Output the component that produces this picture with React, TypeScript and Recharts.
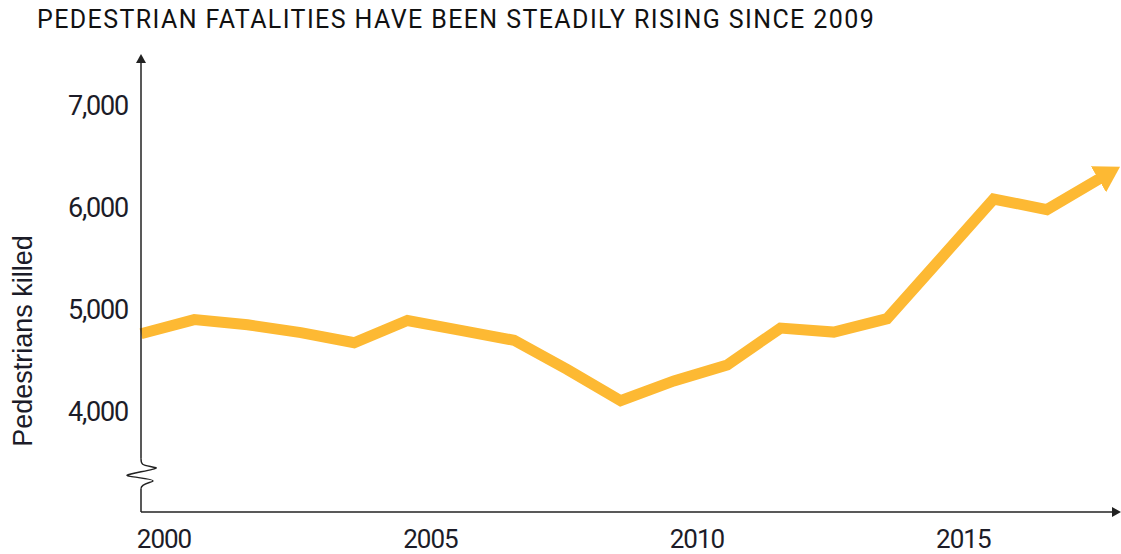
import React from 'react';
import { LineChart, Line, XAxis, YAxis, ReferenceDot, Label } from 'recharts';

const years = [2000, 2001, 2002, 2003, 2004, 2005, 2006, 2007, 2008, 2009, 2010, 2011, 2012, 2013, 2014, 2015, 2016, 2017, 2018];
const fatalities = [4763, 4901, 4851, 4774, 4675, 4892, 4795, 4699, 4414, 4109, 4302, 4457, 4818, 4779, 4910, 5494, 6080, 5977, 6283];
const xTicks = [2000, 2005, 2010, 2015];
const yTicks = [4000, 5000, 6000, 7000];

const data = years.map((y, i) => ({ year: y, v: fatalities[i] }));

const LINE_COLOR = '#FDB933';
const AXIS_COLOR = '#222';
const TEXT_COLOR = '#1c1c28';

const Squiggle = (props: any) => {
  const { cx, cy } = props;
  return (
    <g transform={`translate(${cx},${cy})`}>
      <rect x={-3} y={-15} width={6} height={30} fill="#fff" />
      <path
        d="M0,-15 C0,-8 2,-9 15,-6 C18,-5 -12,0 -14,1.5 C-15,3 12,5 12,7 C12,9 0,9 0,15"
        fill="none"
        stroke={AXIS_COLOR}
        strokeWidth={1.4}
      />
    </g>
  );
};

const YLabel = (props: any) => {
  const vb = props.viewBox || { x: 0, y: 62, width: 141, height: 450 };
  const x = vb.x + 23;
  const y = vb.y + vb.height / 2 + 54;
  return (
    <text
      x={x}
      y={y}
      transform={`rotate(-90, ${x}, ${y})`}
      textAnchor="middle"
      dominantBaseline="central"
      fill={TEXT_COLOR}
      style={{ fontFamily: 'Liberation Sans, Arial, sans-serif', fontSize: 27, whiteSpace: 'pre' }}
    >
      Pedestrians killed
    </text>
  );
};

export default function App() {
  return (
    <div style={{ position: 'absolute', left: 0, top: 0, width: 1121, height: 554, background: '#fff' }}>
      <div
        style={{
          position: 'absolute',
          left: 37,
          top: 7,
          fontFamily: 'Roboto, sans-serif',
          fontSize: 25,
          lineHeight: '25px',
          color: '#111',
          whiteSpace: 'nowrap',
          letterSpacing: 1.4,
        }}
      >
        PEDESTRIAN FATALITIES HAVE BEEN STEADILY RISING SINCE 2009
      </div>
      <LineChart width={1121} height={554} data={data} margin={{ top: 62, right: 8, bottom: 0, left: 0 }}>
        <defs>
          <marker id="lineArrow" markerUnits="userSpaceOnUse" viewBox="0 0 25 30" markerWidth={25} markerHeight={30} refX={2} refY={15} orient="auto">
            <path d="M0,0 L25,15 L0,30 z" fill={LINE_COLOR} />
          </marker>
          <marker id="axisArrow" markerUnits="userSpaceOnUse" viewBox="0 0 9 10" markerWidth={9} markerHeight={10} refX={1} refY={5} orient="auto-start-reverse">
            <path d="M0,0 L9,5 L0,10 z" fill={AXIS_COLOR} />
          </marker>
        </defs>
        <XAxis
          dataKey="year"
          type="number"
          domain={[2000, 2018.24]}
          ticks={xTicks}
          tickLine={false}
          tickSize={6}
          tickMargin={12}
          height={42}
          axisLine={{ stroke: AXIS_COLOR, strokeWidth: 1.5, markerEnd: 'url(#axisArrow)' } as any}
          tick={{ fill: TEXT_COLOR, fontSize: 26, fontFamily: 'Roboto, sans-serif', dx: 23, letterSpacing: -1 } as any}
        />
        <YAxis
          type="number"
          domain={[3020, 7420]}
          ticks={yTicks}
          width={141}
          tickLine={false}
          tickSize={6}
          tickMargin={7}
          tickFormatter={(v: number) => v.toLocaleString('en-US')}
          axisLine={{ stroke: AXIS_COLOR, strokeWidth: 1.5, markerStart: 'url(#axisArrow)' } as any}
          tick={{ fill: TEXT_COLOR, fontSize: 27, fontFamily: 'Roboto, sans-serif', letterSpacing: -1.2 } as any}
        >
          <Label content={<YLabel />} />
        </YAxis>
        <Line
          dataKey="v"
          stroke={LINE_COLOR}
          strokeWidth={11}
          strokeLinejoin="miter"
          strokeLinecap="butt"
          dot={false}
          activeDot={false}
          isAnimationActive={false}
          markerEnd="url(#lineArrow)"
        />
        <ReferenceDot x={2000} y={3394} r={0} ifOverflow="visible" shape={<Squiggle />} />
      </LineChart>
    </div>
  );
}
